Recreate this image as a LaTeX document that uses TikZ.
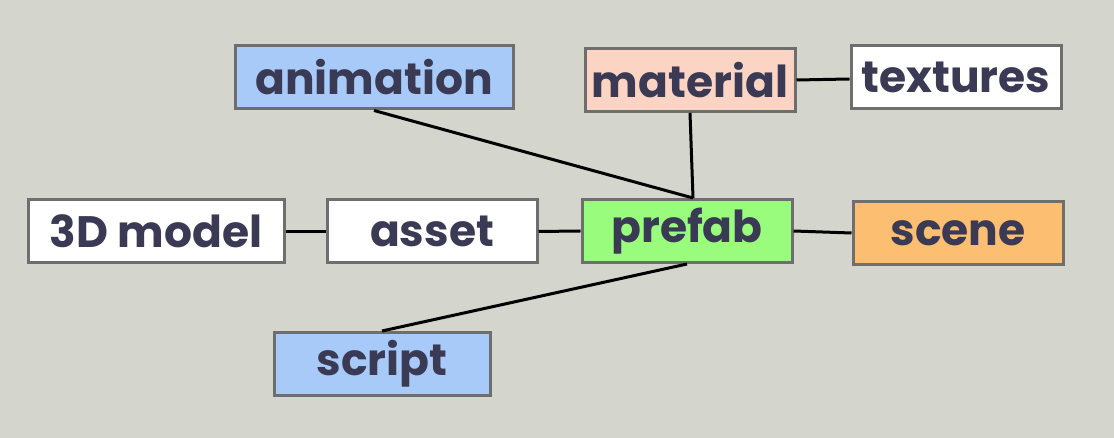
\documentclass[tikz,border=0pt]{standalone}
\usepackage{fontspec}
\setmainfont{Poppins}
\definecolor{bg}{RGB}{212,214,205}
\definecolor{ink}{RGB}{58,58,85}
\definecolor{edge}{RGB}{110,110,110}
\definecolor{blue}{RGB}{168,202,248}
\definecolor{salmon}{RGB}{252,212,196}
\definecolor{green}{RGB}{154,252,124}
\definecolor{orange}{RGB}{252,190,112}
\begin{document}
\begin{tikzpicture}[x=1pt,y=1pt,
    box/.style={draw=edge,line width=3pt,minimum height=63,minimum width=210,
      inner sep=0pt,font=\fontsize{44}{48}\selectfont\bfseries,text=ink},
    link/.style={line width=3pt,black}]
  \fill[bg](0,0) rectangle (1114,438);
  % nodes
  \node[box,fill=blue,minimum width=278] (anim) at (374,360.5) {animation};
  \node[box,fill=salmon] (mat) at (690,358) {material};
  \node[box,fill=white] (tex) at (956,361) {textures};
  \node[box,fill=white,minimum width=256] (model) at (156,206.5) {3D model};
  \node[box,fill=white] (asset) at (432,206.5) {asset};
  \node[box,fill=green] (prefab) at (687,207) {prefab};
  \node[box,fill=orange] (scene) at (958,205) {scene};
  \node[box,fill=blue,minimum width=216] (script) at (382,74) {script};
  % links
  \draw[link](anim.south)--([xshift=6]prefab.north);
  \draw[link](mat.south)--([xshift=6]prefab.north);
  \draw[link](mat.east)--([yshift=-2]tex.west);
  \draw[link](model.east)--(asset.west);
  \draw[link](asset.east)--(prefab.west);
  \draw[link](prefab.east)--(scene.west);
  \draw[link](prefab.south)--(script.north);
\end{tikzpicture}
\end{document}
